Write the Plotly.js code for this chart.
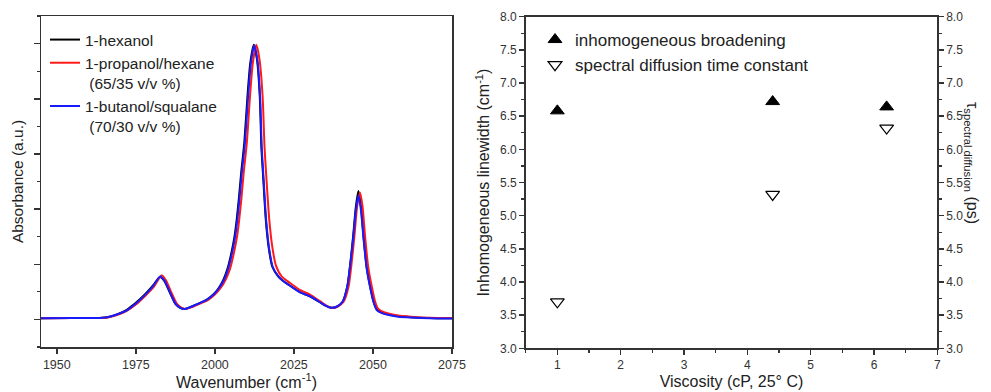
<!DOCTYPE html>
<html>
<head>
<meta charset="utf-8">
<script src="https://cdn.plot.ly/plotly-3.0.1.min.js"></script>
<style>html,body{margin:0;padding:0;background:#fff;}#chart{width:991px;height:392px;}</style>
</head>
<body>
<div id="chart"></div>
<script>
// ---- Left panel: FTIR absorbance spectra ----
var hexanolWn  = [1945,1955,1962,1966,1969,1972,1975,1978,1980.5,1982.6,1984.0,1985.8,1987.5,1989.0,1990.5,1992.5,1995,1997.5,1999.5,2001.1,2002.7,2004.0,2005.2,2006.2,2006.9,2007.6,2008.3,2009.3,2010.3,2011.2,2012.3,2013.3,2014.2,2014.7,2015.2,2016.1,2017.1,2018.2,2020.0,2021.5,2023.8,2027,2030,2033,2035,2036.8,2038.5,2040.4,2041.9,2043.0,2043.8,2044.6,2045.4,2046.2,2047.0,2048.0,2049.1,2050.2,2051.2,2053,2055,2058,2062,2068,2075];
var hexanolAbs = [0.02,0.025,0.025,0.04,0.09,0.17,0.30,0.46,0.62,0.77,0.70,0.48,0.28,0.21,0.19,0.23,0.29,0.36,0.45,0.56,0.72,0.92,1.20,1.50,1.81,2.20,2.65,3.20,4.04,4.65,4.98,4.72,4.04,3.13,2.65,1.81,1.27,0.95,0.78,0.70,0.61,0.49,0.42,0.32,0.25,0.21,0.23,0.32,0.60,1.10,1.55,2.05,2.33,2.05,1.51,0.95,0.60,0.32,0.18,0.12,0.09,0.06,0.04,0.025,0.02];

var propanolWn  = [1945,1955,1962,1966,1969,1972,1975,1978,1980.8,1983.2,1984.6,1986.3,1988.0,1989.5,1991.0,1993,1995.5,1998,2000,2001.7,2003.4,2004.8,2006.0,2007.0,2007.7,2008.4,2009.1,2010.1,2011.1,2012.0,2013.1,2014.1,2015.1,2015.7,2016.2,2017.2,2018.2,2019.3,2021.1,2023.8,2027,2030.1,2033,2035,2037,2038.8,2040.7,2042.3,2043.4,2044.2,2045.0,2045.9,2046.7,2047.5,2048.5,2049.6,2050.7,2051.7,2053.5,2055.5,2058,2062,2068,2075];
var propanolAbs = [0.02,0.025,0.025,0.035,0.08,0.15,0.27,0.43,0.60,0.80,0.70,0.48,0.28,0.21,0.19,0.23,0.29,0.36,0.45,0.56,0.72,0.92,1.20,1.50,1.81,2.20,2.65,3.20,4.04,4.65,4.98,4.72,4.04,3.13,2.65,1.81,1.30,0.98,0.78,0.66,0.53,0.45,0.34,0.26,0.21,0.23,0.32,0.60,1.10,1.55,2.05,2.30,2.05,1.51,0.95,0.60,0.32,0.19,0.13,0.10,0.07,0.05,0.03,0.025];

var butanolWn  = [1945,1955,1962,1966,1969,1972,1975,1978,1980.5,1982.7,1984.1,1985.9,1987.6,1989.1,1990.6,1992.5,1995,1997.5,1999.6,2001.2,2002.9,2004.2,2005.4,2006.4,2007.1,2007.8,2008.5,2009.5,2010.5,2011.4,2012.4,2013.4,2014.3,2014.8,2015.3,2016.2,2017.2,2018.3,2020.1,2021.5,2023.8,2027,2030.1,2033,2035,2036.8,2038.5,2040.4,2041.9,2043.0,2043.8,2044.6,2045.4,2046.2,2047.0,2048.0,2049.1,2050.2,2051.2,2053,2055,2058,2062,2068,2075];
var butanolAbs = [0.02,0.025,0.025,0.04,0.09,0.16,0.29,0.45,0.61,0.78,0.70,0.48,0.28,0.21,0.19,0.23,0.29,0.36,0.45,0.56,0.72,0.92,1.20,1.50,1.81,2.20,2.65,3.20,4.04,4.65,4.97,4.72,4.04,3.13,2.65,1.81,1.27,0.95,0.78,0.70,0.61,0.49,0.42,0.32,0.25,0.21,0.23,0.32,0.60,1.08,1.50,1.98,2.25,1.98,1.48,0.93,0.58,0.31,0.17,0.11,0.08,0.05,0.035,0.02,0.015];

var spectraNames = ['1-hexanol', '1-propanol/hexane<br>\u00a0(65/35 v/v %)', '1-butanol/squalane<br>\u00a0(70/30 v/v %)'];
var spectraColors = ['#000000', '#ff1a1a', '#1a1aff'];

// ---- Right panel: linewidth / spectral diffusion vs viscosity ----
var viscosity = [1.0, 4.4, 6.2];
var inhomBroadening = [6.58, 6.72, 6.64];
var spectralDiffTime = [3.70, 5.32, 6.32];
var markerNames = ['inhomogeneous broadening', 'spectral diffusion time constant'];

var xTicks1 = [1950, 1975, 2000, 2025, 2050, 2075];

var FONT = 'Liberation Sans, Arial, sans-serif';
var AX = '#333333';

var traces = [
  {x: hexanolWn, y: hexanolAbs, name: spectraNames[0], type: 'scatter', mode: 'lines',
   line: {color: spectraColors[0], width: 2, shape: 'spline', smoothing: 0.6}, xaxis: 'x', yaxis: 'y', legend: 'legend'},
  {x: propanolWn, y: propanolAbs, name: spectraNames[1], type: 'scatter', mode: 'lines',
   line: {color: spectraColors[1], width: 2, shape: 'spline', smoothing: 0.6}, xaxis: 'x', yaxis: 'y', legend: 'legend'},
  {x: butanolWn, y: butanolAbs, name: spectraNames[2], type: 'scatter', mode: 'lines',
   line: {color: spectraColors[2], width: 2, shape: 'spline', smoothing: 0.6}, xaxis: 'x', yaxis: 'y', legend: 'legend'},
  {x: viscosity, y: inhomBroadening, name: markerNames[0], type: 'scatter', mode: 'markers',
   marker: {symbol: 'triangle-up', size: 12, color: '#000', line: {color: '#000', width: 1}}, xaxis: 'x2', yaxis: 'y2', legend: 'legend2'},
  {x: viscosity, y: spectralDiffTime, name: markerNames[1], type: 'scatter', mode: 'markers',
   marker: {symbol: 'triangle-down-open', size: 12, color: '#000', line: {color: '#000', width: 1.2}}, xaxis: 'x2', yaxis: 'y3', legend: 'legend2'}
];

var layout = {
  width: 991, height: 392,
  margin: {l: 0, r: 0, t: 0, b: 0},
  paper_bgcolor: '#fff', plot_bgcolor: '#fff',
  font: {family: FONT, color: '#222', size: 12},
  showlegend: true,
  xaxis: {
    domain: [41/991, 452/991], anchor: 'y', range: [1945, 2075],
    tickvals: xTicks1, ticks: 'outside', ticklen: 5, tickwidth: 1.5, tickcolor: AX,
    showline: true, linecolor: AX, linewidth: 1.5, mirror: true, showgrid: false, zeroline: false,
    tickfont: {size: 12.5, color: '#333'},
    title: {text: 'Wavenumber (cm<sup>-1</sup>)', font: {size: 16, color: '#222'}, standoff: 4}
  },
  yaxis: {
    domain: [(392-347)/392, (392-16)/392], anchor: 'x', range: [-0.5, 5.5],
    dtick: 1, tick0: 0, ticks: 'outside', ticklen: 6, tickwidth: 1.5, tickcolor: AX, showticklabels: false,
    minor: {dtick: 0.5, tick0: 0, ticks: 'outside', ticklen: 3, tickwidth: 1.2, tickcolor: AX},
    showline: true, linecolor: AX, linewidth: 1.5, mirror: true, showgrid: false, zeroline: false,
    title: {text: 'Absorbance (a.u.)', font: {size: 15.5, color: '#222'}, standoff: 6}
  },
  xaxis2: {
    domain: [525.7/991, 937.3/991], anchor: 'y2', range: [0.5, 7],
    dtick: 1, tick0: 0, ticks: 'outside', ticklen: 5, tickwidth: 1.5, tickcolor: AX,
    minor: {dtick: 0.5, tick0: 0, ticks: 'outside', ticklen: 3, tickwidth: 1.2, tickcolor: AX},
    showline: true, linecolor: AX, linewidth: 1.5, mirror: true, showgrid: false, zeroline: false,
    tickfont: {size: 12, color: '#333'},
    title: {text: 'Viscosity (cP, 25° C)', font: {size: 16, color: '#222'}, standoff: 4}
  },
  yaxis2: {
    domain: [(392-348.3)/392, (392-16.7)/392], anchor: 'x2', range: [3, 8],
    dtick: 0.5, tick0: 3, tickformat: '.1f', ticks: 'outside', ticklen: 5, tickwidth: 1.5, tickcolor: AX,
    minor: {dtick: 0.25, tick0: 3, ticks: 'outside', ticklen: 3, tickwidth: 1.2, tickcolor: AX},
    showline: true, linecolor: AX, linewidth: 1.5, showgrid: false, zeroline: false,
    tickfont: {size: 12, color: '#333'},
    title: {text: 'Inhomogeneous linewidth (cm<sup>-1</sup>)', font: {size: 16, color: '#222'}, standoff: 6}
  },
  yaxis3: {
    overlaying: 'y2', side: 'right', anchor: 'x2', range: [3, 8],
    dtick: 0.5, tick0: 3, tickformat: '.1f', ticks: 'outside', ticklen: 5, tickwidth: 1.5, tickcolor: AX,
    minor: {dtick: 0.25, tick0: 3, ticks: 'outside', ticklen: 3, tickwidth: 1.2, tickcolor: AX},
    showline: true, linecolor: AX, linewidth: 1.5, showgrid: false, zeroline: false,
    tickfont: {size: 12, color: '#333'}
  },
  legend: {
    x: 45/991, y: 1 - 23/392, xanchor: 'left', yanchor: 'top', valign: 'top',
    bgcolor: 'rgba(0,0,0,0)', borderwidth: 0, font: {size: 15.5, color: '#222'}, tracegroupgap: 0
  },
  legend2: {
    x: 535/991, y: 1 - 22/392, xanchor: 'left', yanchor: 'top',
    bgcolor: 'rgba(0,0,0,0)', borderwidth: 0, font: {size: 17, color: '#222'}
  },
  annotations: [
    {text: '\u03c4<sub>spectral diffusion</sub> (ps)', textangle: 90, xref: 'paper', yref: 'paper',
     x: 972/991, y: 1 - 163/392, xanchor: 'center', yanchor: 'middle', showarrow: false,
     font: {size: 16, color: '#222'}}
  ]
};

Plotly.newPlot('chart', traces, layout, {displayModeBar: false, staticPlot: true});
</script>
</body>
</html>
